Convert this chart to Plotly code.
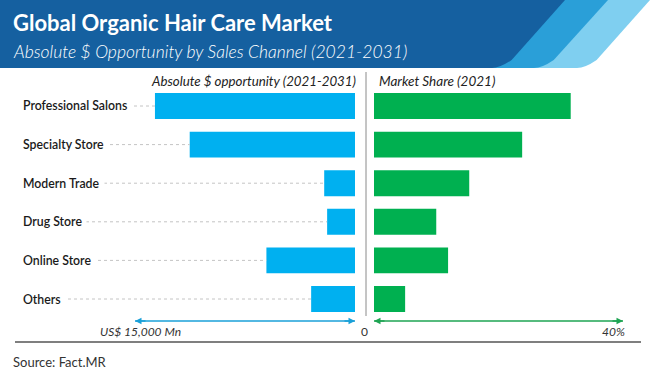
import plotly.graph_objects as go

# ---------------- data ----------------
channels = ["Professional Salons", "Specialty Store", "Modern Trade",
            "Drug Store", "Online Store", "Others"]
abs_opportunity = [13640, 11270, 2100, 1900, 6040, 2990]   # US$ Mn (2021-2031)
market_share = [31.6, 23.8, 15.3, 10.0, 11.9, 5.0]         # % (2021)
left_axis_max = 15000
right_axis_max = 40
left_tick_label = "US$ 15,000 Mn"
right_tick_label = "40%"
zero_label = "0"

title = "Global Organic Hair Care Market"
subtitle = "Absolute $ Opportunity by Sales Channel (2021-2031)"
left_header = "Absolute $ opportunity (2021-2031)"
right_header = "Market Share (2021)"
source = "Source: Fact.MR"

# ---------------- layout helpers ----------------
W, H = 650, 372
def px(x):
    return x / W
def py(y):
    return 1 - y / H

BLUE = "#00b0f0"
GREEN = "#00b050"
DARK = "#1560a0"
MID = "#2a9fd8"
LIGHT = "#7fcff0"
ARROW_BLUE = "#1aa0d8"
ARROW_GREEN = "#1ea453"
FONT = "Lato"

# left axis: 0 at 355px, 15000 at 135px; domain extended to 20px for leaders
L0, L15, LSTART = 355, 135, 20
left_range_max = left_axis_max * (L0 - LSTART) / (L0 - L15)

fig = go.Figure()

# leader dotted lines
lx, ly = [], []
for c, v in zip(channels, abs_opportunity):
    lx += [left_range_max, v, None]
    ly += [c, c, None]
fig.add_trace(go.Scatter(x=lx, y=ly, mode="lines", xaxis="x", yaxis="y",
                         line=dict(color="#c4c4c4", width=1, dash="dot"),
                         hoverinfo="skip", showlegend=False))

fig.add_trace(go.Bar(x=abs_opportunity, y=channels, orientation="h",
                     marker=dict(color=BLUE, line=dict(width=0)),
                     xaxis="x", yaxis="y", showlegend=False, hoverinfo="skip"))
fig.add_trace(go.Bar(x=market_share, y=channels, orientation="h",
                     marker=dict(color=GREEN, line=dict(width=0)),
                     xaxis="x2", yaxis="y2", showlegend=False, hoverinfo="skip"))

ydom = [py(318.3), py(86.7)]
fig.update_layout(
    width=W, height=H,
    margin=dict(l=0, r=0, t=0, b=0),
    paper_bgcolor="white", plot_bgcolor="rgba(0,0,0,0)",
    bargap=0.33,
    font=dict(family=FONT, color="#222"),
    xaxis=dict(domain=[px(LSTART), px(L0)], range=[left_range_max, 0],
               visible=False, fixedrange=True),
    xaxis2=dict(domain=[px(374), px(623)], range=[0, right_axis_max],
                visible=False, fixedrange=True),
    yaxis=dict(domain=ydom, categoryorder="array", categoryarray=channels,
               autorange="reversed", visible=False, fixedrange=True),
    yaxis2=dict(domain=ydom, categoryorder="array", categoryarray=channels,
                autorange="reversed", visible=False, anchor="x2", fixedrange=True),
)

shapes = []

def band(top_x, bot_x, color):
    # polygon with rounded bottom-right corner
    r = 8
    dx = (top_x - bot_x) / 68.0
    pts = [(0, 0), (top_x, 0), (bot_x + r * dx + 4, 68 - r)]
    path = "M " + " L ".join(f"{px(x)},{py(y)}" for x, y in pts)
    path += f" Q {px(bot_x)},{py(68)} {px(bot_x - 8)},{py(68)}"
    path += f" L {px(0)},{py(68)} Z"
    return dict(type="path", xref="paper", yref="paper", path=path,
                fillcolor=color, line=dict(width=0), layer="below")

shapes.append(band(650, 585, LIGHT))
shapes.append(band(608, 542, MID))
shapes.append(band(565, 500, DARK))
# divider
shapes.append(dict(type="line", xref="paper", yref="paper",
                   x0=px(366), x1=px(366), y0=py(72), y1=py(316),
                   line=dict(color="#8a8a8a", width=1)))
# bottom rule
shapes.append(dict(type="line", xref="paper", yref="paper",
                   x0=px(15), x1=px(641), y0=py(342), y1=py(342),
                   line=dict(color="#555555", width=1.3)))
# axis arrow shafts
AY = py(321)
shapes.append(dict(type="line", xref="x", yref="paper", x0=left_axis_max, x1=0,
                   y0=AY, y1=AY, line=dict(color=ARROW_BLUE, width=1.3)))
shapes.append(dict(type="line", xref="x2", yref="paper", x0=0, x1=right_axis_max,
                   y0=AY, y1=AY, line=dict(color=ARROW_GREEN, width=1.3)))
fig.update_layout(shapes=shapes)

ann = []
ann.append(dict(text=f"<b>{title}</b>", x=px(11), y=py(23), xref="paper", yref="paper",
                xanchor="left", yanchor="middle", showarrow=False,
                font=dict(family=FONT, size=22, color="white")))
ann.append(dict(text=f"<i>{subtitle}</i>", x=px(11), y=py(52), xref="paper", yref="paper",
                xanchor="left", yanchor="middle", showarrow=False,
                font=dict(family=FONT, size=17.5, color="white", weight=300)))
ann.append(dict(text=f"<i>{left_header}</i>", x=px(358), y=py(81), xref="paper", yref="paper",
                xanchor="right", yanchor="middle", showarrow=False,
                font=dict(family=FONT, size=13.3, color="#222")))
ann.append(dict(text=f"<i>{right_header}</i>", x=px(377), y=py(81), xref="paper", yref="paper",
                xanchor="left", yanchor="middle", showarrow=False,
                font=dict(family=FONT, size=13.5, color="#222")))
for c in channels:
    ann.append(dict(text=c, x=px(LSTART - 2), y=c, xref="paper", yref="y",
                    xanchor="left", yanchor="middle", showarrow=False,
                    bgcolor="white", borderpad=4,
                    font=dict(family=FONT, size=12.3, color="#1a1a1a", weight=600)))

# arrowheads at the shaft ends
def head(xref, xval, dx, color):
    return dict(x=xval, y=AY, xref=xref, yref="paper", ax=dx, ay=0,
                text="", showarrow=True, arrowhead=2, arrowsize=1,
                arrowwidth=1.3, arrowcolor=color, standoff=0)
ann.append(head("x", left_axis_max, 12, ARROW_BLUE))
ann.append(head("x", 0, -12, ARROW_BLUE))
ann.append(head("x2", 0, 12, ARROW_GREEN))
ann.append(head("x2", right_axis_max, -12, ARROW_GREEN))

ann.append(dict(text=f"<i>{left_tick_label}</i>", x=left_axis_max, y=py(331), xref="x", yref="paper",
                xanchor="center", yanchor="middle", xshift=5, showarrow=False,
                font=dict(family=FONT, size=12, color="#333")))
ann.append(dict(text=zero_label, x=px(364), y=py(331), xref="paper", yref="paper",
                xanchor="center", yanchor="middle", showarrow=False,
                font=dict(family=FONT, size=12, color="#333")))
ann.append(dict(text=f"<i>{right_tick_label}</i>", x=right_axis_max, y=py(331), xref="x2", yref="paper",
                xanchor="right", yanchor="middle", xshift=4, showarrow=False,
                font=dict(family=FONT, size=12, color="#333")))
ann.append(dict(text=source, x=px(11), y=py(362), xref="paper", yref="paper",
                xanchor="left", yanchor="middle", showarrow=False,
                font=dict(family=FONT, size=13, color="#333")))
fig.update_layout(annotations=ann)

fig.write_html("out.html", config={"displayModeBar": False},
               post_script="document.body.style.margin='0';document.body.style.overflow='hidden';")
